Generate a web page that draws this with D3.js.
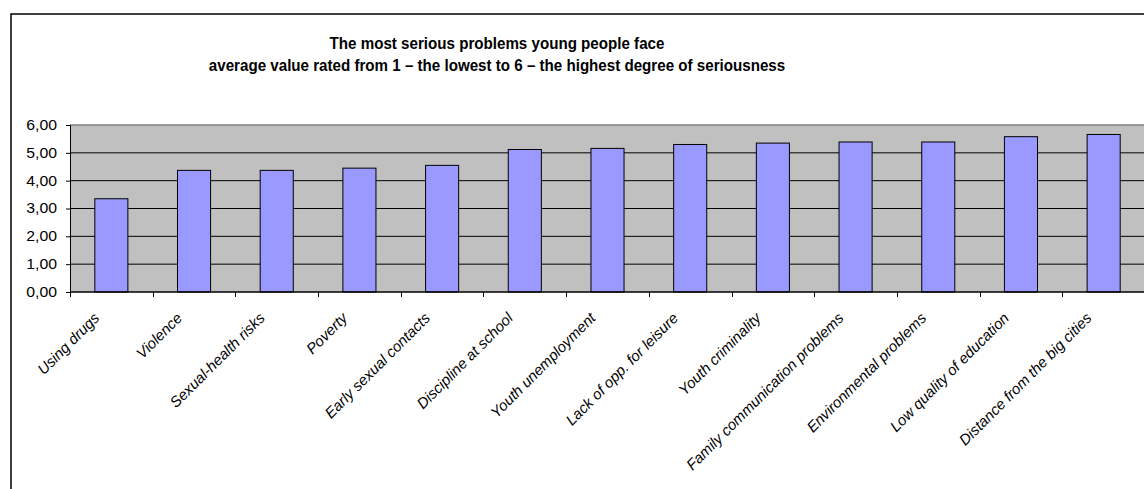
<!DOCTYPE html>
<html>
<head>
<meta charset="utf-8">
<script src="https://cdn.jsdelivr.net/npm/d3@7"></script>
<style>
  html, body { margin: 0; padding: 0; background: #fff; }
  svg { display: block; font-family: "Liberation Sans", Arial, sans-serif; }
</style>
</head>
<body>
<svg id="chart" width="1144" height="489"></svg>
<script>
// Problems of young people: average seriousness rating (1 = lowest, 6 = highest)
const categories = [
  "Using drugs", "Violence", "Sexual-health risks", "Poverty",
  "Early sexual contacts", "Discipline at school", "Youth unemployment",
  "Lack of opp. for leisure", "Youth criminality",
  "Family communication problems", "Environmental problems",
  "Low quality of education", "Distance from the big cities"
];
const values = [3.35, 4.37, 4.37, 4.45, 4.55, 5.12, 5.16, 5.30, 5.35, 5.39, 5.39, 5.58, 5.66];
const yTicks = [0, 1, 2, 3, 4, 5, 6];
const titleLines = [
  "The most serious problems young people face",
  "average value rated from 1 \u2013 the lowest to 6 \u2013 the highest degree of seriousness"
];

const svg = d3.select("#chart");

const plot = { left: 70, top: 125, right: 1145, bottom: 292 };
const widen = 1.13; // horizontal stretch for the value-axis labels

// Outer chart frame
svg.append("rect")
  .attr("x", 11).attr("y", 14)
  .attr("width", 1200).attr("height", 600)
  .attr("fill", "#fff").attr("stroke", "#000").attr("stroke-width", 1.5);

// Title (slightly condensed bold face)
svg.append("g")
  .attr("transform", "translate(497,0) scale(0.93,1)")
  .selectAll("text")
  .data(titleLines)
  .join("text")
  .attr("x", 0)
  .attr("y", (d, i) => 49 + i * 22)
  .attr("text-anchor", "middle")
  .attr("font-size", 16.3)
  .attr("font-weight", "bold")
  .attr("fill", "#000")
  .text(d => d);

// Scales
const xSlots = d3.scaleBand().domain(categories).range([plot.left, plot.right]).padding(0);
const xBars = d3.scaleBand().domain(categories).range([plot.left, plot.right])
  .paddingInner(0.6).paddingOuter(0.3);
const y = d3.scaleLinear().domain([0, 6]).range([plot.bottom, plot.top]);

const locale = d3.formatLocale({ decimal: ",", thousands: ".", grouping: [3], currency: ["", ""] });
const fmt = locale.format(".2f");

// Plot area background
svg.append("rect")
  .attr("x", plot.left).attr("y", plot.top)
  .attr("width", plot.right - plot.left + 20).attr("height", plot.bottom - plot.top)
  .attr("fill", "#c0c0c0");

// Horizontal gridlines
svg.append("g")
  .selectAll("line")
  .data(yTicks.filter(t => t > 0 && t < 6))
  .join("line")
  .attr("x1", plot.left).attr("x2", plot.right + 20)
  .attr("y1", d => y(d)).attr("y2", d => y(d))
  .attr("stroke", "#000").attr("stroke-width", 1);

// Top edge of the plot area
svg.append("line")
  .attr("x1", plot.left).attr("x2", plot.right + 20)
  .attr("y1", y(6)).attr("y2", y(6))
  .attr("stroke", "#808080").attr("stroke-width", 1.5);

// Bars
svg.append("g")
  .selectAll("rect")
  .data(categories.map((c, i) => ({ c, v: values[i] })))
  .join("rect")
  .attr("x", d => xBars(d.c))
  .attr("y", d => y(d.v))
  .attr("width", xBars.bandwidth())
  .attr("height", d => y(0) - y(d.v))
  .attr("fill", "#9999ff")
  .attr("stroke", "#000").attr("stroke-width", 1);

// Y axis
const yAxis = svg.append("g")
  .attr("transform", `translate(${plot.left},0)`)
  .call(d3.axisLeft(y).tickValues(yTicks).tickSize(4).tickFormat(fmt));
yAxis.select(".domain").attr("stroke", "#000").attr("d", `M0.5,${plot.top}V${plot.bottom}`);
yAxis.selectAll(".tick line").attr("stroke", "#000");
yAxis.selectAll(".tick text")
  .attr("x", -13 / widen)
  .attr("transform", `scale(${widen},1)`)
  .attr("font-size", 14)
  .attr("font-family", "Liberation Sans, Arial, sans-serif")
  .attr("fill", "#000");

// X axis line and tick marks at category boundaries
svg.append("line")
  .attr("x1", plot.left).attr("x2", plot.right + 20)
  .attr("y1", plot.bottom).attr("y2", plot.bottom)
  .attr("stroke", "#000").attr("stroke-width", 1.5);

svg.append("g")
  .selectAll("line")
  .data(categories)
  .join("line")
  .attr("x1", d => Math.round(xSlots(d)) + 0.5)
  .attr("x2", d => Math.round(xSlots(d)) + 0.5)
  .attr("y1", plot.bottom).attr("y2", plot.bottom + 5)
  .attr("stroke", "#000").attr("stroke-width", 1);

// Rotated category labels
svg.append("g")
  .selectAll("text")
  .data(categories)
  .join("text")
  .attr("transform", d => `translate(${xSlots(d) + xSlots.bandwidth() / 2 - 11},319) rotate(-45)`)
  .attr("text-anchor", "end")
  .attr("font-size", 15)
  .attr("font-style", "italic")
  .attr("fill", "#000")
  .text(d => d);
</script>
</body>
</html>
